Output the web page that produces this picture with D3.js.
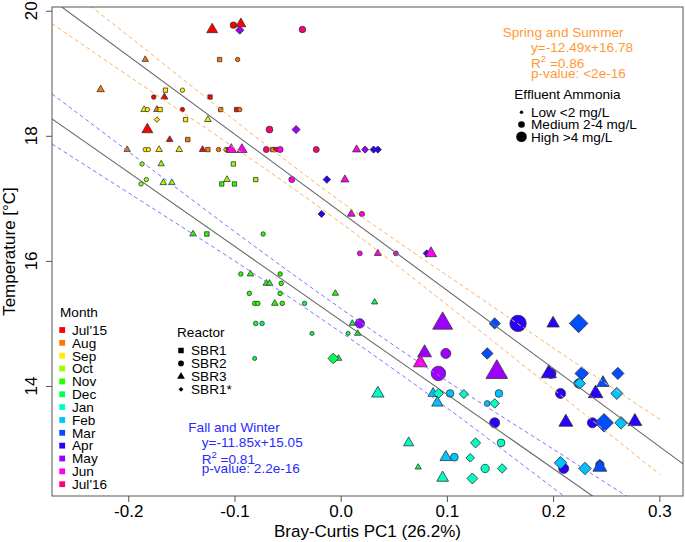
<!DOCTYPE html>
<html><head><meta charset="utf-8">
<script src="https://cdn.jsdelivr.net/npm/d3@7"></script>
<style>
body{margin:0;background:#fff}
svg{display:block}
text{font-family:"Liberation Sans",Arial,Helvetica,sans-serif}
</style>
</head><body>
<svg id="c" width="685" height="542"></svg>
<script>
// ---------------- data ----------------
const months = ["Jul'15","Aug","Sep","Oct","Nov","Dec","Jan","Feb","Mar","Apr","May","Jun","Jul'16"];
const monthColors = ["#FF0000","#FF7600","#FFEC00","#9DFF00","#27FF00","#00FF4E","#00FFC4","#00C4FF","#004EFF","#2700FF","#9D00FF","#FF00EC","#FF0076"];
const reactors = ["SBR1","SBR2","SBR3","SBR1*"];
const ammoniaLevels = ["Low <2 mg/L","Medium 2-4 mg/L","High >4 mg/L"];
const xTicks = [-0.2,-0.1,0,0.1,0.2,0.3];
const yTicks = [14,16,18,20];

const pc1 = [-0.121,-0.101,-0.094,-0.095,-0.036,-0.184,-0.114,-0.097,-0.226,-0.165,
 -0.149,-0.176,-0.166,-0.123,-0.185,-0.182,-0.173,-0.170,-0.149,-0.113,
 -0.098,-0.095,-0.173,-0.146,-0.125,-0.182,-0.067,-0.042,-0.161,-0.144,
 -0.201,-0.184,-0.181,-0.171,-0.152,-0.130,-0.125,-0.115,-0.108,-0.106,
 -0.103,-0.093,-0.070,-0.064,-0.061,-0.057,-0.023,0.015,0.023,0.031,
 0.035,-0.187,-0.169,-0.101,-0.183,-0.188,-0.167,-0.159,-0.112,-0.107,
 -0.100,-0.080,-0.046,-0.013,0.004,-0.018,0.010,0.020,-0.139,-0.126,
 -0.073,0.018,0.035,0.052,0.081,0.085,-0.094,-0.085,-0.057,-0.070,
 -0.067,-0.056,-0.086,-0.057,-0.005,-0.081,-0.078,-0.062,-0.055,-0.034,
 0.032,-0.080,-0.074,0.011,0.018,-0.027,0.007,0.016,-0.081,-0.002,
 -0.007,0.096,0.145,0.167,0.200,0.224,0.079,0.075,0.099,0.138,
 0.092,0.147,0.198,0.196,0.227,0.261,0.224,0.225,0.247,0.240,
 0.260,0.207,0.035,0.087,0.092,0.103,0.116,0.149,0.091,0.138,
 0.145,0.145,0.212,0.237,0.248,0.264,0.277,0.064,0.127,0.151,
 0.099,0.107,0.122,0.210,0.207,0.230,0.244,0.244,0.073,0.136,
 0.152,0.096,0.124];
const temp = [19.70,19.77,19.79,19.69,19.70,19.22,19.22,19.22,18.74,18.73,
 18.73,18.62,18.62,18.62,18.42,18.42,18.42,18.42,18.42,18.42,
 18.42,18.42,18.26,18.26,18.26,18.10,18.10,18.10,17.94,17.94,
 17.78,17.78,17.78,17.78,17.78,17.78,17.78,17.78,17.78,17.78,
 17.78,17.78,17.78,17.78,17.78,17.78,17.78,17.78,17.78,17.78,
 17.78,17.55,17.55,17.55,17.30,17.23,17.25,17.25,17.23,17.30,
 17.23,17.30,17.30,17.30,17.30,16.75,16.75,16.75,16.43,16.43,
 16.43,16.12,16.12,16.12,16.12,16.12,15.79,15.79,15.79,15.64,
 15.64,15.64,15.48,15.48,15.48,15.32,15.32,15.32,15.32,15.32,
 15.34,15.00,15.00,15.00,15.00,14.84,14.84,14.84,14.44,14.44,
 14.44,15.00,15.00,15.00,15.00,15.00,14.53,14.37,14.52,14.52,
 14.20,14.22,14.20,14.20,14.20,14.20,14.04,14.04,14.05,13.88,
 13.88,13.88,13.88,13.88,13.88,13.88,13.87,13.88,13.73,13.72,
 13.72,13.41,13.42,13.41,13.41,13.41,13.43,13.09,13.09,13.09,
 12.86,12.86,12.85,12.68,12.77,12.68,12.74,12.70,12.70,12.68,
 12.68,12.53,12.52];
const monthIdx = [0,0,0,10,12,1,1,1,1,2,
 2,0,0,0,2,2,1,2,0,1,
 0,1,2,2,2,0,12,10,0,1,
 1,2,2,2,2,0,1,1,2,0,
 11,11,12,1,0,11,12,11,10,9,
 9,3,3,3,3,3,3,3,4,3,
 4,3,11,9,11,9,11,11,4,4,
 4,11,11,11,9,11,4,4,4,4,
 4,4,4,4,4,4,4,4,4,5,
 5,5,5,5,10,5,5,5,5,5,
 5,10,8,9,9,8,10,11,10,8,
 10,10,9,9,8,8,8,7,8,9,
 7,9,6,7,6,7,6,7,7,7,
 6,9,9,9,8,7,9,6,6,6,
 7,7,6,9,7,7,8,8,5,6,
 6,6,6];
const reactorIdx = [2,1,2,3,1,2,0,1,2,0,
 1,1,2,0,2,1,2,0,1,0,
 0,1,3,0,2,2,1,3,2,0,
 2,1,1,2,2,2,0,1,1,0,
 2,2,1,0,0,1,1,2,3,3,
 3,1,2,0,1,1,2,2,0,2,
 0,0,1,3,2,3,2,1,2,0,
 1,1,2,1,3,2,1,2,1,2,
 2,1,1,1,2,1,1,2,1,1,
 2,1,1,2,1,1,1,2,1,2,
 3,2,3,1,2,3,2,2,1,3,
 1,2,1,2,3,3,1,3,2,2,
 3,1,2,2,3,1,3,1,2,1,
 3,1,2,1,3,3,2,2,3,1,
 2,1,3,1,3,3,1,2,2,1,
 3,2,3];
const ammonia = [2.8,1.8,2.4,1.8,1.8,0.7,0.8,0.5,1.2,0.8,
 0.5,0.6,1.0,0.8,0.8,0.5,0.8,0.8,0.5,0.8,
 0.8,0.5,0.5,0.8,0.8,2.8,2.0,1.8,0.8,0.9,
 0.7,0.5,0.5,0.8,0.8,0.8,0.8,0.5,0.5,0.6,
 2.5,2.5,1.5,0.8,0.8,1.5,1.5,1.5,1.3,1.3,
 1.3,0.5,0.7,0.8,0.5,0.5,0.8,0.8,0.8,0.8,
 0.8,0.8,1.5,1.5,1.5,1.3,1.3,1.0,0.8,0.9,
 0.5,0.8,1.0,0.8,1.3,3.0,0.6,0.8,0.6,0.8,
 0.8,0.6,0.6,0.6,0.7,0.6,0.6,0.8,0.6,0.5,
 0.6,0.6,0.6,0.7,3.6,0.3,0.3,0.7,0.3,0.8,
 3.0,7.0,3.3,8.0,3.5,7.0,4.2,4.2,4.0,3.5,
 6.8,7.8,4.0,4.8,4.5,3.8,3.5,3.5,3.5,4.5,
 3.8,4.0,3.5,2.5,2.8,2.5,2.3,2.5,3.0,1.3,
 2.5,4.0,4.2,4.0,7.0,4.0,4.2,2.5,2.8,2.6,
 3.2,2.6,2.0,4.0,4.0,4.0,3.0,4.2,0.6,3.0,
 2.5,3.2,3.2];

// regression fits (from the printed equations)
const springFit = {slope:-12.49, intercept:16.78};
const fallFit = {slope:-11.85, intercept:15.05};
// confidence bands
const springBandX = [-0.2718,-0.2,-0.1,0,0.1,0.2,0.3008];
const springUpper = [20.555,19.60,18.25,16.95,15.77,14.61,13.46];
const springLower = [19.795,18.96,17.81,16.61,15.30,13.95,12.58];
const fallBandX = [-0.2718,-0.2,-0.1,0,0.1,0.2,0.3];
const fallUpper = [18.67,17.75,16.47,15.24,14.08,12.99,11.90];
const fallLower = [17.87,17.09,16.00,14.86,13.65,12.37,11.10];

// ---------------- chart ----------------
const svg = d3.select("#c");
const L=52,R=683,T=7,B=496;
const x = d3.scaleLinear().domain([-0.2718,0.3223]).range([L,R]);
const y = d3.scaleLinear().domain([12.24,20.06]).range([B,T]);
const rS = d3.scaleLinear().domain([0,8]).range([1.8,8.2]);
const font = '"Liberation Sans",Arial,sans-serif';

svg.append("defs").append("clipPath").attr("id","clip")
  .append("rect").attr("x",L).attr("y",T).attr("width",R-L).attr("height",B-T);

const shapeTypes = [d3.symbolSquare,d3.symbolCircle,d3.symbolTriangle,d3.symbolSquare];

const pts = pc1.map((v,i)=>({x:v,t:temp[i],m:monthIdx[i],r:reactorIdx[i],a:ammonia[i]}));
const gp = svg.append("g").attr("clip-path","url(#clip)");
gp.selectAll("path.pt").data(pts).enter().append("path")
  .attr("class","pt")
  .attr("d",d=>{const r=rS(d.a);return d3.symbol().type(shapeTypes[d.r]).size(Math.PI*r*r)();})
  .attr("transform",d=>`translate(${x(d.x)},${y(d.t)})`+(d.r===3?" rotate(45)":""))
  .attr("fill",d=>monthColors[d.m])
  .attr("stroke","#333").attr("stroke-width",0.8);

// lines
const gl = svg.append("g").attr("clip-path","url(#clip)");
const lineGen = d3.line().x(d=>x(d[0])).y(d=>y(d[1]));
const bandGen = d3.line().x(d=>x(d[0])).y(d=>y(d[1])).curve(d3.curveNatural);
function band(xs,ys,col){
  gl.append("path").attr("d",bandGen(xs.map((v,i)=>[v,ys[i]])))
    .attr("fill","none").attr("stroke",col).attr("stroke-width",1).attr("stroke-dasharray","4,3");
}
band(springBandX,springUpper,"#FFB060");
band(springBandX,springLower,"#FFB060");
band(fallBandX,fallUpper,"#7878FF");
band(fallBandX,fallLower,"#7878FF");
[springFit,fallFit].forEach(f=>{
  const d0=x.domain();
  gl.append("path").attr("d",lineGen(d0.map(v=>[v,f.intercept+f.slope*v])))
    .attr("fill","none").attr("stroke","#666").attr("stroke-width",1.1);
});

// box
svg.append("rect").attr("x",L).attr("y",T).attr("width",R-L).attr("height",B-T)
  .attr("fill","none").attr("stroke","#555").attr("stroke-width",1);

// axes
const xa = svg.append("g").attr("transform",`translate(0,${B})`)
  .call(d3.axisBottom(x).tickValues(xTicks).tickSize(6).tickPadding(3).tickFormat(d=>d.toFixed(1)));
xa.select(".domain").remove();
xa.selectAll("line").attr("stroke","#555");
xa.selectAll("text").attr("font-size",17).attr("font-family",font).attr("fill","#000");

const ya = svg.append("g").attr("transform",`translate(${L},0)`)
  .call(d3.axisLeft(y).tickValues(yTicks).tickSize(6).tickFormat(""));
ya.select(".domain").remove();
ya.selectAll("line").attr("stroke","#555");
svg.selectAll("text.ytl").data(yTicks).enter().append("text").attr("class","ytl")
  .attr("transform",d=>`translate(37,${y(d)}) rotate(-90)`)
  .attr("text-anchor","middle").attr("font-size",17).text(d=>d);

svg.append("text").attr("x",(L+R)/2).attr("y",537).attr("text-anchor","middle")
  .attr("font-size",17).text("Bray-Curtis PC1 (26.2%)");
svg.append("text").attr("transform",`translate(15,${(T+B)/2}) rotate(-90)`)
  .attr("text-anchor","middle").attr("font-size",17).text("Temperature [°C]");

// Month legend
const fs=13.6;
svg.append("text").attr("x",60).attr("y",317).attr("font-size",fs).text("Month");
months.forEach((m,i)=>{
  const cy=330+i*12.85;
  svg.append("rect").attr("x",59.3).attr("y",cy-2.9).attr("width",5.8).attr("height",5.8).attr("fill",monthColors[i]);
  svg.append("text").attr("x",72).attr("y",cy+4.8).attr("font-size",fs).text(m);
});

// Reactor legend
svg.append("text").attr("x",177).attr("y",336.5).attr("font-size",fs).text("Reactor");
const legShapes=[d3.symbolSquare,d3.symbolCircle,d3.symbolTriangle,d3.symbolSquare];
const legSizes=[30,26,26,12];
reactors.forEach((r,i)=>{
  const cy=350.5+i*12.95;
  svg.append("path").attr("d",d3.symbol().type(legShapes[i]).size(legSizes[i])())
    .attr("transform",`translate(181,${cy})`+(i===3?" rotate(45)":"")).attr("fill","#000");
  svg.append("text").attr("x",191).attr("y",cy+4.8).attr("font-size",fs).text(r);
});

// Effluent Ammonia legend
svg.append("text").attr("x",514.3).attr("y",99).attr("font-size",fs).text("Effluent Ammonia");
const ammR=[1.7,3.3,5.3];
ammoniaLevels.forEach((t,i)=>{
  const cy=112.3+i*12.2;
  svg.append("circle").attr("cx",521.5).attr("cy",cy).attr("r",ammR[i]).attr("fill","#000");
  svg.append("text").attr("x",531).attr("y",cy+4.8).attr("font-size",fs).text(t);
});

// regression texts
function statBlock(x0,x1,ys,col,title,eq,r2,p){
  svg.append("text").attr("x",x0).attr("y",ys[0]).attr("font-size",fs).attr("fill",col).text(title);
  svg.append("text").attr("x",x1).attr("y",ys[1]).attr("font-size",fs).attr("fill",col).text(eq);
  const t=svg.append("text").attr("x",x1).attr("y",ys[2]).attr("font-size",fs).attr("fill",col);
  t.append("tspan").text("R");
  t.append("tspan").attr("font-size",9.5).attr("dy",-6).text("2");
  t.append("tspan").attr("dy",6).text(" ="+r2);
  svg.append("text").attr("x",x1).attr("y",ys[3]).attr("font-size",fs).attr("fill",col).text("p-value: "+p);
}
statBlock(502.7,531,[36.7,52,68.3,77.5],"#FF9A33","Spring and Summer","y=-12.49x+16.78","0.86","<2e-16");
statBlock(188.3,201.7,[431.7,447,464,472.7],"#2B2BFF","Fall and Winter","y=-11.85x+15.05","0.81","2.2e-16");
</script>
</body></html>
